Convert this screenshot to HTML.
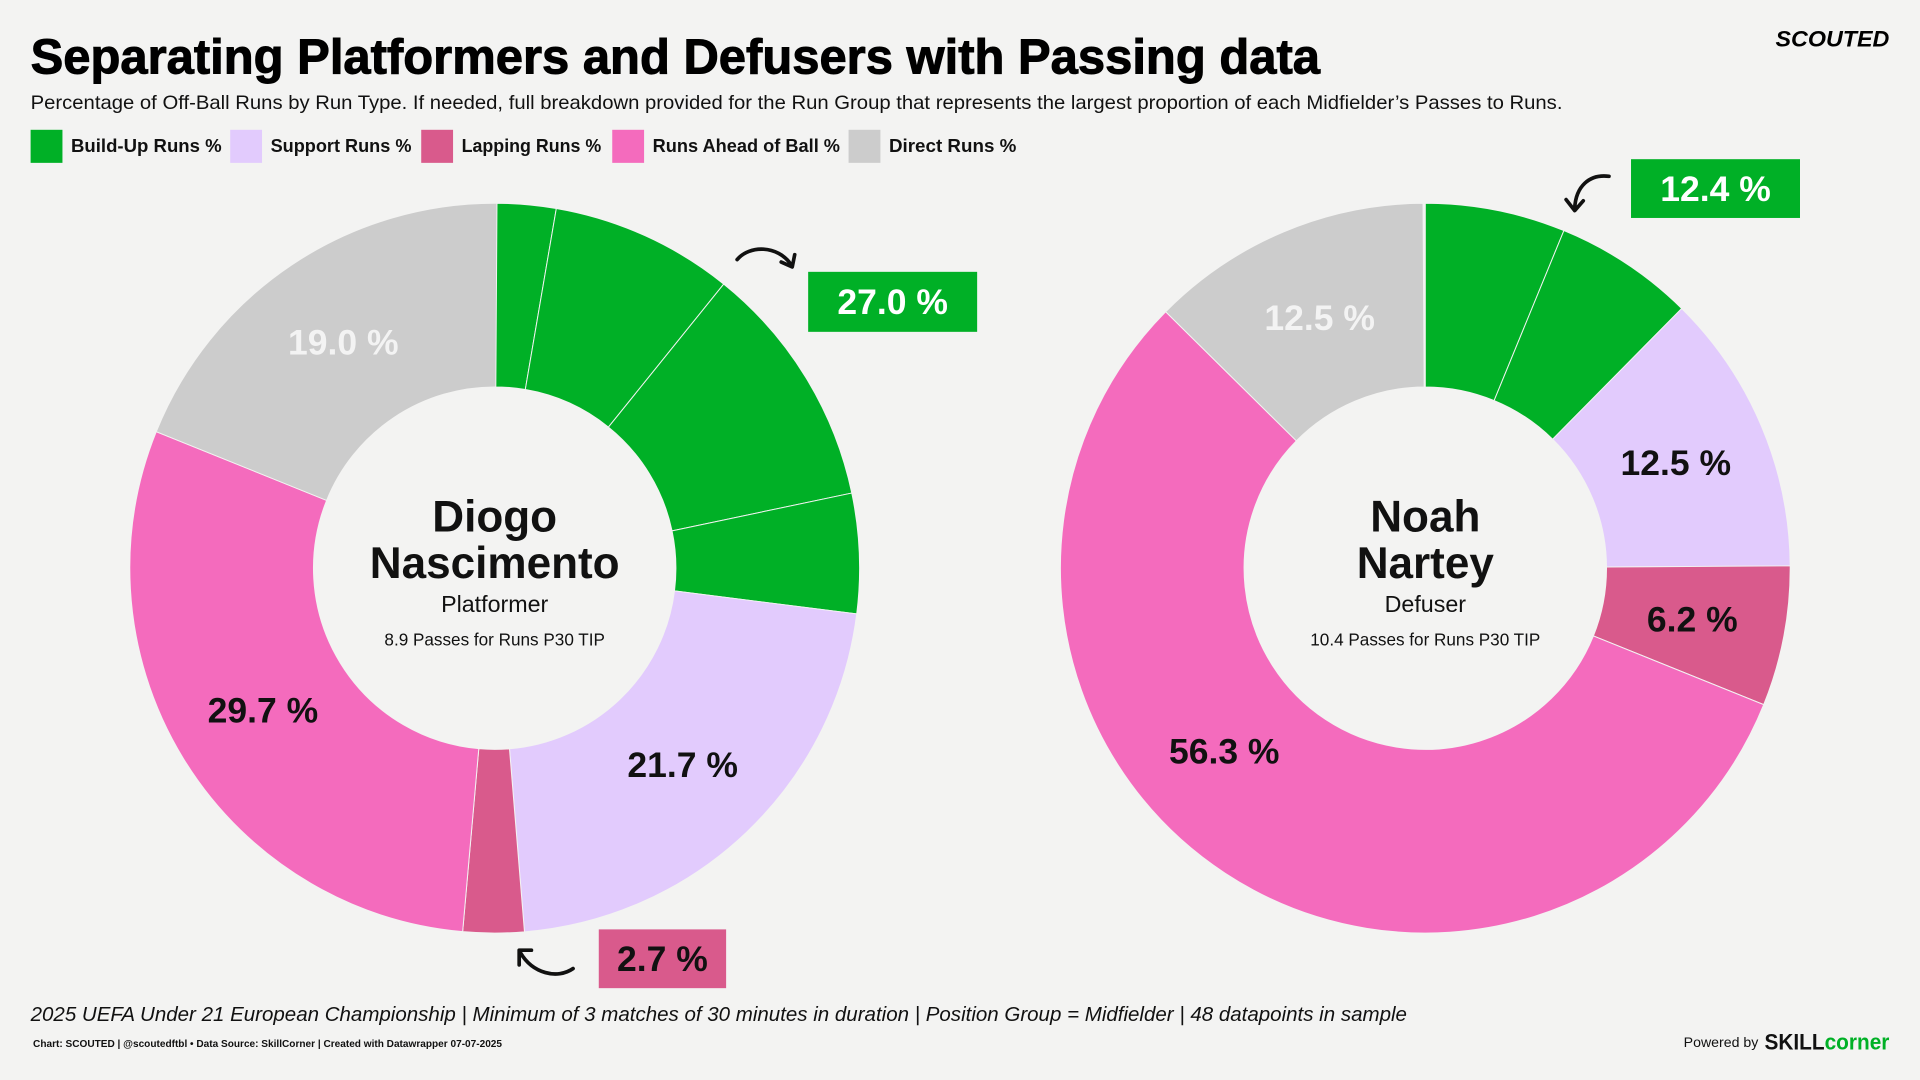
<!DOCTYPE html>
<html><head><meta charset="utf-8"><style>
html,body{margin:0;padding:0;background:#f3f3f2;}
svg{display:block;font-family:"Liberation Sans",sans-serif;}
</style></head><body>
<svg id="chart" width="1920" height="1080" viewBox="0 0 1568 882" xmlns="http://www.w3.org/2000/svg">
<rect width="1568" height="882" fill="#f3f3f2"/>
<text x="25" y="60" font-size="40" font-weight="bold" fill="#000" stroke="#000" stroke-width="0.8" textLength="1053" lengthAdjust="spacingAndGlyphs">Separating Platformers and Defusers with Passing data</text>
<text x="25" y="89" font-size="16" fill="#111" textLength="1251" lengthAdjust="spacingAndGlyphs">Percentage of Off-Ball Runs by Run Type. If needed, full breakdown provided for the Run Group that represents the largest proportion of each Midfielder’s Passes to Runs.</text>
<text x="1450" y="38" font-size="18" font-weight="bold" font-style="italic" fill="#000" textLength="93" lengthAdjust="spacingAndGlyphs">SCOUTED</text>
<g id="legend"></g>
<g id="donuts"></g>
<g fill="none" stroke="#111" stroke-width="3" stroke-linecap="round" stroke-linejoin="round">
<path d="M602 212 C612 200 635 200 646 216 M638 214 L647 218 L649 208"/>
<path d="M468 791 C455 800 435 795 425 778 M424 788 L424 776 L434 776"/>
<path d="M1314 144 C1298 142 1287 152 1286 170 M1279 163 L1286 172 L1293 164"/>
</g>
<text x="25" y="834" font-size="16.5" font-style="italic" fill="#111" textLength="1124" lengthAdjust="spacingAndGlyphs">2025 UEFA Under 21 European Championship | Minimum of 3 matches of 30 minutes in duration | Position Group = Midfielder | 48 datapoints in sample</text>
<text x="27" y="855" font-size="8.5" font-weight="bold" fill="#111" textLength="383" lengthAdjust="spacingAndGlyphs">Chart: SCOUTED | @scoutedftbl • Data Source: SkillCorner | Created with Datawrapper 07-07-2025</text>
<text x="1375" y="855" font-size="11" fill="#111" textLength="61" lengthAdjust="spacingAndGlyphs">Powered by</text>
<text x="1441" y="857" font-size="18" font-weight="bold" fill="#111" textLength="102" lengthAdjust="spacingAndGlyphs">SKILL<tspan fill="#00b026">corner</tspan></text>
</svg>
<script>
const NS="http://www.w3.org/2000/svg";
const legendLabels=["Build-Up Runs %","Support Runs %","Lapping Runs %","Runs Ahead of Ball %","Direct Runs %"];
const colors=["#00b026","#e2cbfd","#d95a8c","#f46bbd","#cccccc"];
// player 1 segments (build-up split into sub-runs)
const p1Values=[2.7,8.1,10.9,5.3,21.7,2.7,29.7,19.0];
const p1Groups=[0,0,0,0,1,2,3,4];
const p1Labels=["","","","","21.7 %","","29.7 %","19.0 %"];
// player 2
const p2Values=[6.2,6.2,12.5,6.2,56.3,12.5];
const p2Groups=[0,0,1,2,3,4];
const p2Labels=["","","12.5 %","6.2 %","56.3 %","12.5 %"];
const players=[
 {name1:"Diogo",name2:"Nascimento",role:"Platformer",passes:"8.9 Passes for Runs P30 TIP",cx:404,cy:464,values:p1Values,groups:p1Groups,labels:p1Labels,
  box:{text:"27.0 %",x:660,y:222,w:138,h:49,color:"#00b026",fg:"#fff"},box2:{text:"2.7 %",x:489,y:759,w:104,h:48,color:"#d95a8c",fg:"#111"}},
 {name1:"Noah",name2:"Nartey",role:"Defuser",passes:"10.4 Passes for Runs P30 TIP",cx:1164,cy:464,values:p2Values,groups:p2Groups,labels:p2Labels,
  box:{text:"12.4 %",x:1332,y:130,w:138,h:48,color:"#00b026",fg:"#fff"}}
];
const R=298,r=148,LR=222;
function mk(tag,attrs,parent){const e=document.createElementNS(NS,tag);for(const k in attrs)e.setAttribute(k,attrs[k]);parent.appendChild(e);return e;}
function pt(cx,cy,rad,pct){const a=pct/100*2*Math.PI;return [cx+rad*Math.sin(a),cy-rad*Math.cos(a)];}
const lg=document.getElementById('legend');
let lx=25;const lw=[163,156,156,193,140];const tw=[123,115,114,153,104];
legendLabels.forEach((t,i)=>{
 const sq=mk('rect',{x:lx,y:106,width:26,height:27,fill:colors[i]},lg);
 
 
 const tx=mk('text',{x:lx+33,y:124,'font-size':15,'font-weight':'bold',fill:'#111',textLength:tw[i],lengthAdjust:'spacingAndGlyphs'},lg);
 tx.textContent=t;
 
 
 lx+=lw[i];
});
const dg=document.getElementById('donuts');
players.forEach((p,pi)=>{
 const g=mk('g',{},dg);
 
 
 let cum=0;
 p.values.forEach((v,i)=>{
  const s=cum,e=cum+v;cum=e;
  const [x1,y1]=pt(p.cx,p.cy,R,s),[x2,y2]=pt(p.cx,p.cy,R,e),[x3,y3]=pt(p.cx,p.cy,r,e),[x4,y4]=pt(p.cx,p.cy,r,s);
  const large=v>50?1:0;
  const path=mk('path',{d:`M${x1} ${y1} A${R} ${R} 0 ${large} 1 ${x2} ${y2} L${x3} ${y3} A${r} ${r} 0 ${large} 0 ${x4} ${y4}Z`,fill:colors[p.groups[i]],stroke:'#f3f3f2','stroke-width':0.8},g);
  
  
  if(p.labels[i]){
   let mid=s+v/2; if(v>50) mid+=4;
   const [lxp,lyp]=pt(p.cx,p.cy,LR,mid);
   const t=mk('text',{x:lxp,y:lyp+10,'text-anchor':'middle','font-size':29,'font-weight':'bold',fill:p.groups[i]===4?'#f3f3f3':'#111'},g);
   t.textContent=p.labels[i];
   
   
  }
 });
 const c=mk('circle',{cx:p.cx,cy:p.cy,r:r,fill:'#f3f3f2'},g);
 
 
 [[p.name1,434,36,'bold'],[p.name2,472,36,'bold'],[p.role,500,19,'normal'],[p.passes,527,14,'normal']].forEach(([t,y,fs,fw],k)=>{
  const tx=mk('text',{x:p.cx,y:y,'text-anchor':'middle','font-size':fs,'font-weight':fw,fill:'#111'},g);
  tx.textContent=t;
  
  
 });
 [p.box,p.box2].forEach(b=>{
  if(!b)return;
  const br=mk('rect',{x:b.x,y:b.y,width:b.w,height:b.h,fill:b.color},g);
  
  
  const bt=mk('text',{x:b.x+b.w/2,y:b.y+b.h/2+10,'text-anchor':'middle','font-size':29,'font-weight':'bold',fill:b.fg},g);
  bt.textContent=b.text;
  
  
 });
});
</script>
</body></html>
